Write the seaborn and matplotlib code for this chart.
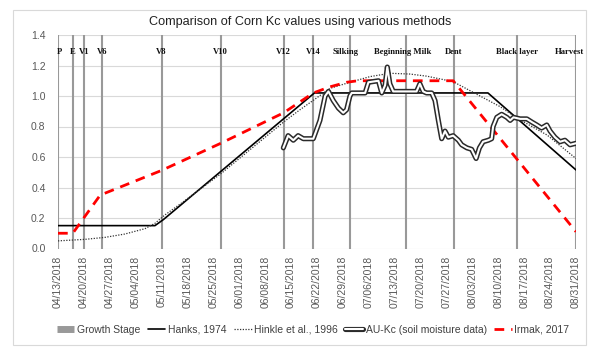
import numpy as np
import pandas as pd
import matplotlib
matplotlib.use("Agg")
import matplotlib.pyplot as plt
import matplotlib.patheffects as pe
from matplotlib.lines import Line2D
from matplotlib.patches import Rectangle
import seaborn as sns

# ---------------- data (days after 04/13/2018) ----------------
START = pd.Timestamp("2018-04-13")
END = pd.Timestamp("2018-08-31")

stage_names = ["P", "E", "V1", "V6", "V8", "V10", "V12", "V14", "Silking",
               "Beginning Milk", "Dent", "Black layer", "Harvest"]
stage_days = [0, 4, 7, 12, 28, 44, 61, 69, 79, 94, 107, 124, 140]
stage_label_days = [0.3, 4, 7, 12, 28, 44, 61, 69, 77.6, 93.2, 107, 124, 138.1]

hanks_days = [0, 26.2, 28.5, 69.3, 116.2, 140]
hanks_kc = [0.15, 0.15, 0.19, 1.02, 1.02, 0.515]

hinkle_days = [0, 7.3, 12.7, 18.1, 23.5, 26.2, 28.9, 33.5, 44, 52, 61, 65.4, 68.9,
               73.5, 78.9, 84.3, 89.7, 95.1, 99.7, 106.8, 112.2, 119.5, 124.1, 132.2, 140]
hinkle_kc = [0.05, 0.06, 0.073, 0.095, 0.13, 0.165, 0.22, 0.30, 0.49, 0.65, 0.83, 0.91, 0.97,
             1.05, 1.09, 1.127, 1.149, 1.144, 1.13, 1.094, 1.024, 0.93, 0.854, 0.744, 0.59]

au_days = [60.9, 62.2, 63.6, 64.9, 66.3, 69.0, 70.8, 72.2, 73.1, 74.4,
           75.8, 77.1, 78.0, 78.9, 79.4, 83.0, 83.9, 86.6, 87.5, 88.4,
           89.0, 89.7, 90.6, 96.9, 97.8, 98.7, 99.6, 101.0, 101.9, 102.8,
           103.7, 104.6, 105.5, 106.8, 108.2, 109.1, 110.5, 111.8, 113.0, 113.9,
           114.9, 116.3, 117.2, 117.6, 118.6, 119.9, 121.3, 122.2, 123.1, 124.9,
           126.7, 128.0, 129.4, 130.7, 132.1, 133.0, 134.3, 135.7, 137.0, 138.4,
           140.0]
au_kc = [0.66, 0.74, 0.71, 0.74, 0.72, 0.72, 0.84, 1.00, 1.03, 0.97,
         0.92, 0.89, 0.91, 1.00, 1.02, 1.02, 1.09, 1.10, 1.02, 1.07,
         1.19, 1.08, 1.03, 1.03, 1.08, 1.03, 1.02, 1.02, 0.97, 0.84,
         0.72, 0.77, 0.73, 0.74, 0.71, 0.68, 0.66, 0.65, 0.59, 0.66,
         0.70, 0.71, 0.72, 0.80, 0.86, 0.88, 0.86, 0.84, 0.86, 0.85,
         0.85, 0.83, 0.81, 0.79, 0.81, 0.77, 0.73, 0.70, 0.71, 0.68,
         0.69]

irmak_days = [0, 4, 11.4, 27.8, 44, 61, 69, 73.5, 78, 81, 106.8, 140]
irmak_kc = [0.10, 0.10, 0.35, 0.51, 0.69, 0.89, 1.02, 1.06, 1.09, 1.10, 1.10, 0.11]

y_ticks = [0.0, 0.2, 0.4, 0.6, 0.8, 1.0, 1.2, 1.4]
title = "Comparison of Corn Kc values using various methods"


def to_dates(days):
    return START + pd.to_timedelta(np.asarray(days, dtype=float), unit="D")


# ---------------- figure ----------------
sns.set_style("white")
plt.rcParams["font.family"] = ["Liberation Sans", "DejaVu Sans"]

fig = plt.figure(figsize=(6, 3.56), dpi=100)
fig.patches.append(Rectangle((13 / 600, 1 - 345 / 356), 573 / 600, 335 / 356,
                             transform=fig.transFigure, fill=False,
                             edgecolor="#D9D9D9", linewidth=0.8))
ax = fig.add_axes([58 / 600, 1 - 248.5 / 356, 518 / 600, 213.5 / 356])

for v in y_ticks:
    ax.axhline(v, color="#D9D9D9", lw=0.8, zorder=0)

stage_dates = to_dates(stage_days)
ax.vlines(stage_dates, 0, 1.4, color="#999999", lw=1.5, zorder=1)
for name, d in zip(stage_names, to_dates(stage_label_days)):
    ax.text(d, 1.29, name, ha="center", va="center", fontsize=6.2,
            fontweight="bold", family=["Liberation Serif", "DejaVu Serif"],
            color="#111111", zorder=5)

sns.lineplot(x=to_dates(hanks_days), y=hanks_kc, ax=ax, color="black", lw=1.2, zorder=3)
sns.lineplot(x=to_dates(hinkle_days), y=hinkle_kc, ax=ax, color="#333333", lw=0.9,
             linestyle=(0, (1, 1.2)), zorder=3)
au_pe = [pe.Stroke(linewidth=3.7, foreground="#2a2a2a"), pe.Normal()]
sns.lineplot(x=to_dates(au_days), y=au_kc, ax=ax, color="white", lw=1.5, zorder=4,
             path_effects=au_pe)
sns.lineplot(x=to_dates(irmak_days), y=irmak_kc, ax=ax, color="#FF0000", lw=2.0,
             linestyle=(0, (3.5, 2.5)), zorder=3)

ax.set_xlim(START, END)
ax.set_ylim(0, 1.4)
ax.set_yticks(y_ticks)
ax.set_yticklabels([f"{v:.1f}" for v in y_ticks])
xt = pd.date_range(START, END, freq="7D")
ax.set_xticks(xt)
ax.set_xticklabels([d.strftime("%m/%d/%Y") for d in xt], rotation=90)
ax.tick_params(axis="both", length=0, labelsize=7.5, labelcolor="#595959")
ax.tick_params(axis="y", pad=9)
ax.tick_params(axis="x", pad=5)
for s in ax.spines.values():
    s.set_visible(False)
ax.set_xlabel("")
ax.set_ylabel("")

fig.text(0.5, 1 - 22 / 356, title, ha="center", va="center", fontsize=9.1, color="#222222")

handles = [
    Line2D([], [], color="#999999", lw=5, solid_capstyle="butt"),
    Line2D([], [], color="black", lw=1.2),
    Line2D([], [], color="#333333", lw=0.9, linestyle=(0, (1, 1.2))),
    Line2D([], [], color="white", lw=1.5, path_effects=au_pe),
    Line2D([], [], color="#FF0000", lw=2.0, linestyle=(0, (3.5, 2.5))),
]
labels = ["Growth Stage", "Hanks, 1974", "Hinkle et al., 1996",
          "AU-Kc (soil moisture data)", "Irmak, 2017"]
fig.legend(handles, labels, loc="center", bbox_to_anchor=(313 / 600, 1 - 330 / 356),
           ncol=5, frameon=False, fontsize=7.5, handlelength=1.7, handletextpad=0.25,
           columnspacing=0.7, labelcolor="#404040")

fig.savefig("out.png", dpi=100)
